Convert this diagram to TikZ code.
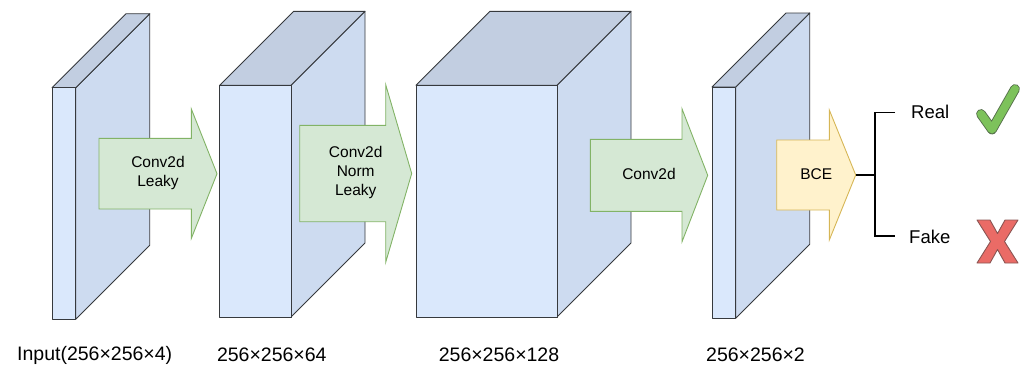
\documentclass[tikz,border=0pt]{standalone}
\usepackage{fontspec}
\setmainfont{Liberation Sans}
\definecolor{cubefrontc}{HTML}{DAE8FC}
\definecolor{cubesidec}{HTML}{CDDBF0}
\definecolor{cubetopc}{HTML}{C2CEE1}
\definecolor{cubeline}{HTML}{36393D}
\definecolor{greenfill}{HTML}{D5E8D4}
\definecolor{greenline}{HTML}{82B366}
\definecolor{yellowfill}{HTML}{FFF2CC}
\definecolor{yellowline}{HTML}{D6B656}
\definecolor{checkfill}{HTML}{7DC25B}
\definecolor{checkline}{HTML}{55704A}
\definecolor{xfill}{HTML}{EA6B66}
\definecolor{xline}{HTML}{8A5553}
\tikzset{
  cubeface/.style={draw=cubeline, line width=0.9pt, line join=round},
  cubefront/.style={cubeface, fill=cubefrontc, rectangle, inner sep=0pt, outer sep=0pt},
  cubeside/.style={cubeface, fill=cubesidec},
  cubetop/.style={cubeface, fill=cubetopc},
  greenarrow/.style={fill=greenfill, draw=greenline, line width=0.9pt},
  yellowarrow/.style={fill=yellowfill, draw=yellowline, line width=0.9pt},
  arrowtext/.style={align=center, font=\fontsize{15.5}{19}\selectfont, inner sep=0pt},
  dimlabel/.style={font=\fontsize{19.5}{23}\selectfont, inner sep=0pt},
  outlabel/.style={font=\fontsize{18.5}{22}\selectfont, inner sep=0pt, anchor=west},
  bracketline/.style={draw=black, line width=1.5pt},
}
\newcommand\drawcube[5]{%
  \pgfmathsetmacro\cubew{#3-#2}%
  \pgfmathsetmacro\cubeh{#5-#4}%
  \filldraw[cubeside] (#3,#4) -- (#3+74,#4-74) -- (#3+74,#5-74) -- (#3,#5) -- cycle;
  \filldraw[cubetop] (#2,#4) -- (#2+74,#4-74) -- (#3+74,#4-74) -- (#3,#4) -- cycle;
  \node[cubefront, minimum width=\cubew pt, minimum height=\cubeh pt] (#1) at ({(#2+#3)/2},{(#4+#5)/2}) {};
}
\newcommand\fatarrow[7]{%
  \filldraw[#1] (#2,#5-#6) -- (#3,#5-#6) -- (#3,#5-#7) -- (#4,#5) -- (#3,#5+#7) -- (#3,#5+#6) -- (#2,#5+#6) -- cycle;
}
\begin{document}
\begin{tikzpicture}[x=1pt,y=-1pt]
\useasboundingbox (0,0) rectangle (1024,367);

% block 1
\drawcube{c1}{52}{75.7}{87.7}{319.3}
\fatarrow{greenarrow}{99}{191.3}{217}{173.7}{35.3}{64.8}
\node[arrowtext] (a1) at (158,173) {Conv2d\\Leaky};

% block 2
\drawcube{c2}{219.7}{291}{85.3}{317}
\fatarrow{greenarrow}{299.7}{385.7}{411.7}{173.5}{48.2}{88.8}
\node[arrowtext] (a2) at (355.7,172.5) {Conv2d\\Norm\\Leaky};

% block 3
\drawcube{c3}{416}{557}{85.3}{317}
\fatarrow{greenarrow}{590.3}{682}{707.7}{175.3}{36}{66.5}
\node[arrowtext] (a3) at (649,174) {Conv2d};

% block 4
\drawcube{c4}{712}{735.7}{87}{318.3}
\fatarrow{yellowarrow}{776.7}{829.3}{855.7}{175}{35}{65}
\node[arrowtext] (bce) at (816.2,174.5) {BCE};

% dimension labels
\node[dimlabel] (l1) at (94.7,355) {Input(256×256×4)};
\node[dimlabel] (l2) at (271.8,355) {256×256×64};
\node[dimlabel] (l3) at (499,355) {256×256×128};
\node[dimlabel] (l4) at (755.5,355) {256×256×2};

% outputs
\coordinate (bcetip) at (855.7,175);
\coordinate (bj) at (875,175);
\coordinate (br) at (895,112.3);
\coordinate (bf) at (895,236);
\node[outlabel] (real) at (911,111.7) {Real};
\node[outlabel] (fake) at (909,236.7) {Fake};
\draw[bracketline] (bcetip) -- (bj);
\draw[bracketline] (br) -| (bj) |- (bf);

% check mark
\draw[draw=checkline, line width=0.9pt, double=checkfill, double distance=8pt, line cap=round, line join=round]
  (981,114) -- (992,129.5) -- (1015,89);
% cross
\filldraw[fill=xfill, draw=xline, line width=0.9pt, line join=round]
  (977,220) -- (990,220) -- (997.5,233.5) -- (1005,220) -- (1018,220) -- (1004.5,241.5)
  -- (1018,263) -- (1005,263) -- (997.5,249.5) -- (990,263) -- (977,263) -- (990.5,241.5) -- cycle;
\end{tikzpicture}
\end{document}
